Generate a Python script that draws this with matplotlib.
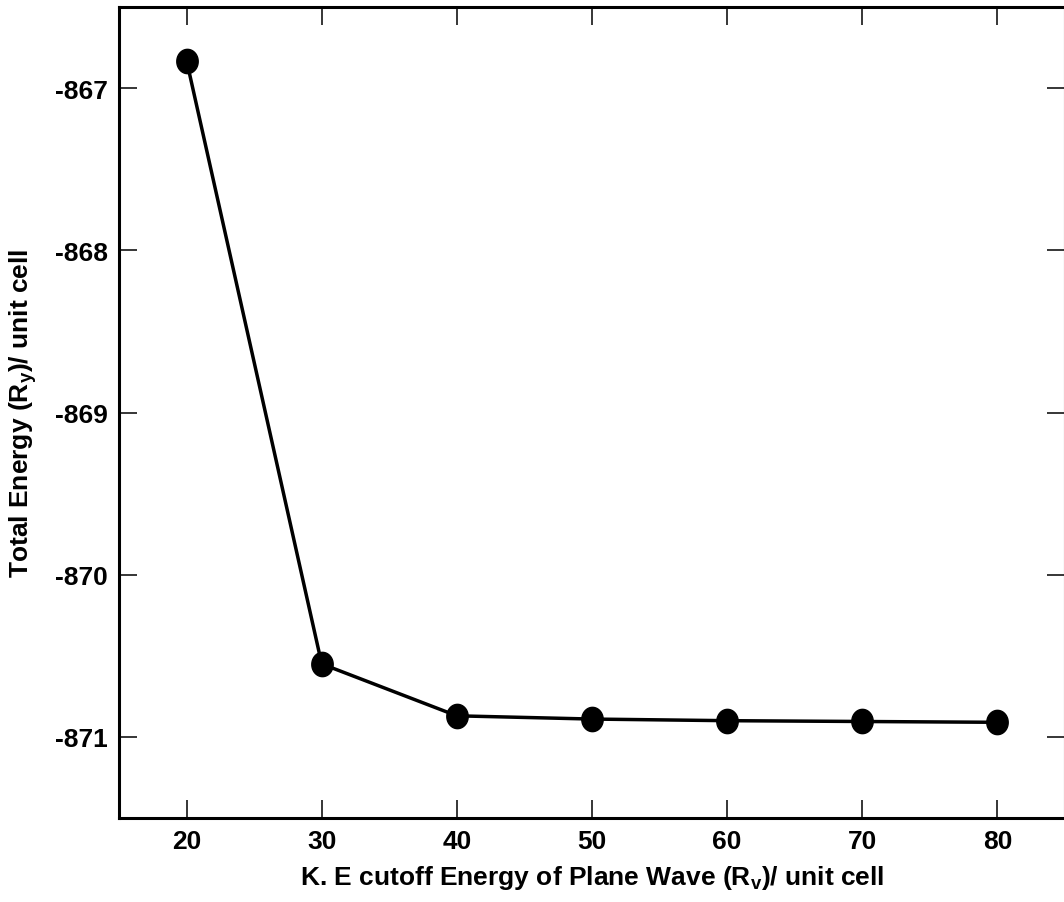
import numpy as np
import matplotlib.pyplot as plt
from matplotlib.path import Path

# Dane
cutoff = [20, 30, 40, 50, 60, 70, 80]
energy = [-866.83, -870.55, -870.87, -870.89, -870.90, -870.905, -870.91]
x_ticks = [20, 30, 40, 50, 60, 70, 80]
y_ticks = [-867, -868, -869, -870, -871]

family = 'Liberation Sans'
fs = 19

plt.rcParams['font.family'] = [family, 'DejaVu Sans']
plt.rcParams['font.weight'] = 'bold'
plt.rcParams['mathtext.fontset'] = 'custom'
plt.rcParams['mathtext.rm'] = family + ':bold'
plt.rcParams['mathtext.it'] = family + ':bold'
plt.rcParams['mathtext.bf'] = family + ':bold'

# Marker w kształcie elipsy (lekko wyższy niż szeroki)
t = np.linspace(0, 2 * np.pi, 60)
ellipse = Path(np.column_stack([0.44 * np.cos(t), 0.5 * np.sin(t)]), closed=True)

fig = plt.figure(figsize=(10.64, 9.03), dpi=100)
ax = fig.add_axes([119 / 1064, (903 - 819) / 903, (1065 - 119) / 1064, (819 - 8) / 903])

ax.plot(cutoff, energy, color='black', lw=2.5, marker=ellipse, markersize=17.5,
        markerfacecolor='black', markeredgecolor='black')

ax.set_xlim(15, 85)
ax.set_ylim(-871.5, -866.5)
ax.set_xticks(x_ticks)
ax.set_yticks(y_ticks)
ax.set_yticklabels([str(v) for v in y_ticks])

for s in ax.spines.values():
    s.set_linewidth(2.2)
ax.tick_params(direction='in', length=13, width=1.1, top=True, right=True,
               labelsize=fs, pad=8)

ax.set_xlabel(r'K. E cutoff Energy of Plane Wave (R$_\mathregular{v}$)/ unit cell',
              fontsize=fs, fontweight='bold')
ax.set_ylabel(r'Total Energy (R$_\mathregular{y}$)/ unit cell',
              fontsize=fs, fontweight='bold')
ax.xaxis.set_label_coords(0.5, -0.056)
ax.yaxis.set_label_coords(-0.085, 0.5)

fig.savefig('out.png', dpi=100)
